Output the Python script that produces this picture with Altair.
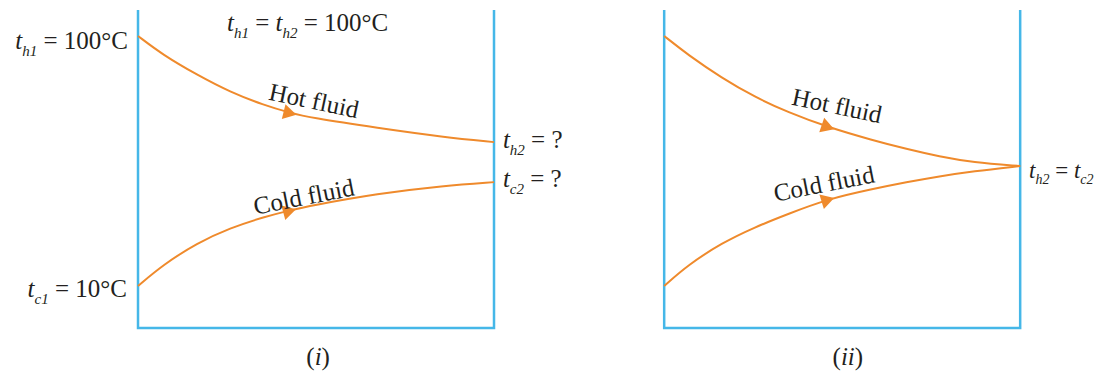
import altair as alt
import pandas as pd

# ---------------- data ----------------
# position along the exchanger (0 = inlet, 1 = outlet) and temperature (deg C)
pos_i = [0.0, 0.070, 0.166, 0.259, 0.352, 0.428, 0.484, 0.673, 0.859, 1.0]
hot_i = [100.0, 93.2, 86.0, 79.8, 75.2, 72.3, 70.6, 66.9, 63.6, 61.8]
cold_i = [10.0, 17.6, 25.5, 30.9, 34.8, 37.3, 38.9, 43.3, 46.1, 47.4]

pos_ii = [0.0, 0.067, 0.162, 0.255, 0.347, 0.459, 0.585, 0.681, 0.773, 0.866, 1.0]
hot_ii = [100.0, 93.2, 84.9, 78.0, 72.6, 67.2, 62.5, 59.3, 56.6, 54.5, 53.2]
cold_ii = [10.0, 17.6, 25.5, 31.2, 35.9, 41.3, 44.9, 47.4, 49.5, 51.3, 53.2]

panel_names = ["(i)", "(ii)"]
panel_offset = [0.0, 1.478]
frame_top = 109.4
frame_bottom = -5.1

# arrow heads: (panel, position, temperature, direction angle)
arrow_panel = [0, 0, 1, 1]
arrow_pos = [0.427, 0.426, 0.46, 0.46]
arrow_temp = [72.2, 37.0, 67.2, 41.0]
arrow_angle = [14, 345, 19, 343]

ORANGE = "#EF8A2C"
BLUE = "#45B7E8"
INK = "#231F20"
FONT = "Liberation Serif"

# ---------------- scales ----------------
W, H = 1089, 365
X_DOMAIN = [-0.3652, 2.6938]
T_DOMAIN = [-21.31, 110.08]
PXX = W / (X_DOMAIN[1] - X_DOMAIN[0])
PXT = H / (T_DOMAIN[1] - T_DOMAIN[0])
xs = alt.Scale(domain=X_DOMAIN, nice=False, zero=False)
ys = alt.Scale(domain=T_DOMAIN, nice=False, zero=False)
X = lambda f="x": alt.X(f"{f}:Q", scale=xs, axis=None)
Y = lambda f="T": alt.Y(f"{f}:Q", scale=ys, axis=None)

# ---------------- tables ----------------
rows = []
for name, pos, vals, p in [("hot_i", pos_i, hot_i, 0), ("cold_i", pos_i, cold_i, 0),
                           ("hot_ii", pos_ii, hot_ii, 1), ("cold_ii", pos_ii, cold_ii, 1)]:
    for k, (a, v) in enumerate(zip(pos, vals)):
        rows.append(dict(series=name, i=k, x=panel_offset[p] + a, T=v))
curves = pd.DataFrame(rows)

frows = []
for p, off in enumerate(panel_offset):
    for k, (a, t) in enumerate([(0, frame_top), (0, frame_bottom), (1, frame_bottom), (1, frame_top)]):
        frows.append(dict(panel=panel_names[p], i=k, x=off + a, T=t))
frame = pd.DataFrame(frows)

arrows = pd.DataFrame(dict(
    x=[panel_offset[p] + a for p, a in zip(arrow_panel, arrow_pos)],
    T=arrow_temp, ang=arrow_angle))

# ---------------- text layout ----------------
WN = {"0": .5, "1": .5, "2": .5, "=": .564, " ": .25, "°": .4, "C": .667, "?": .444,
      "(": .333, ")": .333}
WI = {"t": .278, "h": .5, "c": .444, "1": .5, "2": .5, "i": .278}


def tw(s, it, fs):
    tab = WI if it else WN
    return sum(tab.get(ch, .5) for ch in s) * fs


def place(runs, x0, t0, align="left"):
    widths = [tw(s, it, fs) for s, it, fs, dy in runs]
    total = sum(widths)
    cur = x0 * PXX - {"left": 0, "center": total / 2, "right": total}[align]
    out = []
    for (s, it, fs, dy), w in zip(runs, widths):
        lead = len(s) - len(s.lstrip(" "))
        out.append(dict(x=(cur + lead * WN[" "] * fs) / PXX, T=t0 - dy / PXT,
                        text=s.strip(" "), fs=fs, it=it))
        cur += w
    return out


M, S, D = 25, 15, 7
labels = []
labels += place([("t", 1, M, 0), ("h1", 1, S, D), (" = 100°C", 0, M, 0)], -0.028, 95.3, "right")
labels += place([("t", 1, M, 0), ("c1", 1, S, D), (" = 10°C", 0, M, 0)], -0.031, 6.2, "right")
labels += place([("t", 1, M, 0), ("h1", 1, S, D), (" = ", 0, M, 0), ("t", 1, M, 0),
                 ("h2", 1, S, D), (" = 100°C", 0, M, 0)], 0.25, 101.8, "left")
labels += place([("t", 1, M, 0), ("h2", 1, S, D), (" = ?", 0, M, 0)], 1.025, 59.7, "left")
labels += place([("t", 1, M, 0), ("c2", 1, S, D), (" = ?", 0, M, 0)], 1.025, 45.6, "left")
labels += place([("t", 1, 23, 0), ("h2", 1, 14, 6), (" = ", 0, 23, 0), ("t", 1, 23, 0),
                 ("c2", 1, 14, 6)], 2.503, 48.9, "left")
labels += place([("(", 0, M, 0), ("i", 1, M, 0), (")", 0, M, 0)], 0.506, -18.6, "center")
labels += place([("(", 0, M, 0), ("ii", 1, M, 0), (")", 0, M, 0)], 1.994, -18.6, "center")
lab = pd.DataFrame(labels)

fluid = pd.DataFrame(dict(
    text=["Hot fluid", "Cold fluid", "Hot fluid", "Cold fluid"],
    x=[0.494, 0.466, 1.9635, 1.927],
    T=[76.6, 42.0, 74.8, 46.7],
    ang=[12, 349, 12, 349]))

# ---------------- layers ----------------
frame_l = alt.Chart(frame).mark_line(color=BLUE, strokeWidth=2.5, strokeJoin="miter").encode(
    x=X(), y=Y(), detail="panel:N", order="i:O")
curve_l = alt.Chart(curves).mark_line(color=ORANGE, strokeWidth=2, interpolate="basis").encode(
    x=X(), y=Y(), detail="series:N", order="i:O")
arrow_l = alt.Chart(arrows).mark_point(shape="triangle-right", filled=True, size=230,
                                       color=ORANGE, opacity=1, strokeWidth=0).encode(
    x=X(), y=Y(), angle=alt.Angle("ang:Q", scale=None))
txt_n = alt.Chart(lab[lab.it == 0]).mark_text(font=FONT, color=INK, align="left",
                                              baseline="alphabetic").encode(
    x=X(), y=Y(), text="text:N", size=alt.Size("fs:Q", scale=None))
txt_i = alt.Chart(lab[lab.it == 1]).mark_text(font=FONT, fontStyle="italic", color=INK,
                                              align="left", baseline="alphabetic").encode(
    x=X(), y=Y(), text="text:N", size=alt.Size("fs:Q", scale=None))
fluid_l = alt.Chart(fluid).mark_text(font=FONT, fontSize=25, color=INK, align="center",
                                     baseline="middle").encode(
    x=X(), y=Y(), text="text:N", angle=alt.Angle("ang:Q", scale=None))

chart = alt.layer(frame_l, curve_l, arrow_l, txt_n, txt_i, fluid_l).properties(
    width=W, height=H, padding=0,
    autosize=alt.AutoSizeParams(type="none"),
).configure_view(stroke=None)

chart.save("out.html", embed_options={"renderer": "svg", "actions": False})
